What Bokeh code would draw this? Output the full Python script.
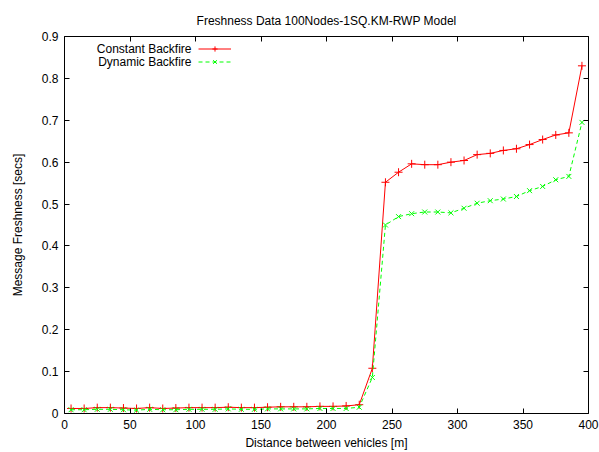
from bokeh.plotting import figure
from bokeh.models import (LinearAxis, FixedTicker, Legend, LegendItem, Label, Range1d,
                          CustomJSTickFormatter)
from bokeh.embed import file_html
from bokeh.resources import INLINE

title_text = "Freshness Data 100Nodes-1SQ.KM-RWP Model"
x_label = "Distance between vehicles [m]"
y_label = "Message Freshness [secs]"

distance = [5, 15, 25, 35, 45, 55, 65, 75, 85, 95,
            105, 115, 125, 135, 145, 155, 165, 175, 185, 195,
            205, 215, 225, 235, 245, 255, 265, 275, 285, 295,
            305, 315, 325, 335, 345, 355, 365, 375, 385, 395]

constant_backfire = [0.012, 0.012, 0.014, 0.014, 0.013, 0.012, 0.014, 0.012, 0.013, 0.014,
                     0.014, 0.014, 0.015, 0.014, 0.014, 0.015, 0.016, 0.016, 0.016, 0.017,
                     0.017, 0.018, 0.021, 0.108, 0.552, 0.576, 0.596, 0.594, 0.594, 0.600,
                     0.604, 0.618, 0.621, 0.628, 0.632, 0.642, 0.654, 0.665, 0.670, 0.830]

dynamic_backfire = [0.009, 0.009, 0.010, 0.010, 0.009, 0.008, 0.010, 0.009, 0.009, 0.010,
                    0.010, 0.010, 0.011, 0.010, 0.010, 0.011, 0.011, 0.011, 0.011, 0.012,
                    0.012, 0.012, 0.015, 0.086, 0.450, 0.470, 0.477, 0.481, 0.481, 0.479,
                    0.490, 0.502, 0.508, 0.512, 0.518, 0.532, 0.542, 0.558, 0.566, 0.695]

series_names = ["Constant Backfire", "Dynamic Backfire"]

x_ticks = [0, 50, 100, 150, 200, 250, 300, 350, 400]
y_ticks = [0, 0.1, 0.2, 0.3, 0.4, 0.5, 0.6, 0.7, 0.8, 0.9]
y_tick_labels = ["0", "0.1", "0.2", "0.3", "0.4", "0.5", "0.6", "0.7", "0.8", "0.9"]

FONT = "Liberation Sans"

p = figure(width=599, height=452, output_backend="svg", toolbar_location=None,
           x_range=Range1d(0, 400), y_range=Range1d(0, 0.9),
           min_border_left=64, min_border_right=11, min_border_top=36, min_border_bottom=39,
           x_axis_location=None, y_axis_location=None)
p.background_fill_color = "white"
p.border_fill_color = "white"
p.outline_line_color = None
p.grid.visible = False

p.title.text = title_text
p.title.align = "center"
p.title.text_font = FONT
p.title.text_font_style = "normal"
p.title.text_font_size = "12px"
p.title.text_color = "black"
p.title.offset = 0
p.title.standoff = 18

def style_axis(ax, ticks, show_labels):
    ax.ticker = FixedTicker(ticks=ticks)
    ax.axis_line_color = "black"
    ax.axis_line_width = 1
    ax.major_tick_line_color = "black"
    ax.major_tick_in = 5
    ax.major_tick_out = 0
    ax.minor_tick_line_color = None
    ax.major_label_text_font = FONT
    ax.major_label_text_font_size = "12px"
    ax.major_label_text_color = "black"
    ax.axis_label_text_font = FONT
    ax.axis_label_text_font_size = "12px"
    ax.axis_label_text_font_style = "normal"
    ax.axis_label_text_color = "black"
    if not show_labels:
        ax.formatter = CustomJSTickFormatter(code="return ''")
        ax.major_label_standoff = 0

bottom = LinearAxis(axis_label=x_label)
style_axis(bottom, x_ticks, True)
bottom.major_label_standoff = 6
bottom.axis_label_standoff = 4
p.add_layout(bottom, "below")

left = LinearAxis(axis_label=y_label)
style_axis(left, y_ticks, True)
left.major_label_overrides = {t: l for t, l in zip(y_ticks, y_tick_labels)}
left.major_label_standoff = 6
left.axis_label_standoff = 14
p.add_layout(left, "left")

top = LinearAxis()
style_axis(top, x_ticks, False)
p.add_layout(top, "above")

right = LinearAxis()
style_axis(right, y_ticks, False)
p.add_layout(right, "right")

r1 = p.line(distance, constant_backfire, line_color="#ff0000", line_width=1)
m1 = p.scatter(distance, constant_backfire, marker="cross", size=8, line_color="#ff0000", line_width=1)
r2 = p.line(distance, dynamic_backfire, line_color="#00ff00", line_width=1, line_dash="4 3")
m2 = p.scatter(distance, dynamic_backfire, marker="x", size=7, line_color="#00ff00", line_width=1)

legend = Legend(items=[LegendItem(label=" ", renderers=[r1, m1]),
                       LegendItem(label=" ", renderers=[r2, m2])],
                location=(134, 345), orientation="vertical",
                border_line_color=None, background_fill_alpha=0,
                padding=0, margin=0, spacing=0,
                glyph_width=33, glyph_height=13, label_height=13,
                label_text_font_size="12px", label_standoff=0)
p.add_layout(legend, "center")

for i, name in enumerate(series_names):
    p.add_layout(Label(x=127, y=345 + 26 - 6.5 - 13 * i, x_units="screen", y_units="screen",
                       text=name, text_align="right", text_baseline="middle",
                       text_font=FONT, text_font_size="12px", text_color="black"))

open("out.html", "w").write(file_html(p, INLINE))
